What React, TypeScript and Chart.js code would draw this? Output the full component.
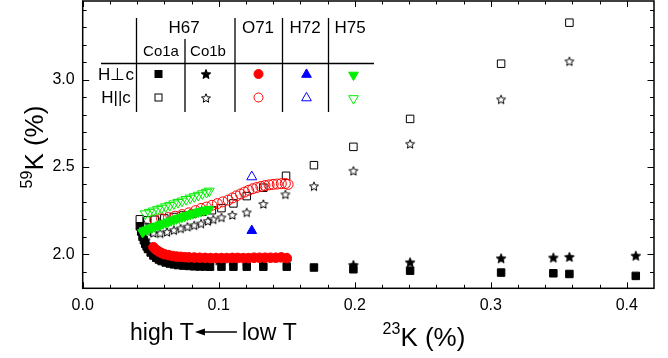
import React, { useEffect, useRef } from 'react';
import { Chart, registerables } from 'chart.js';

Chart.register(...registerables);

// ---- axes ----
const X_MIN = 0;
const X_MAX = 0.42;
const Y_MIN = 1.805;
const Y_MAX = 3.45;
const xMajorTicks = [0, 0.1, 0.2, 0.3, 0.4];
const xMinorTicks = [0.02, 0.04, 0.06, 0.08, 0.12, 0.14, 0.16, 0.18, 0.22, 0.24, 0.26, 0.28, 0.32, 0.34, 0.36, 0.38];
const yMajorTicks = [2.0, 2.5, 3.0];
const yMinorTicks = [1.9, 2.1, 2.2, 2.3, 2.4, 2.6, 2.7, 2.8, 2.9, 3.1, 3.2, 3.3, 3.4];

// ---- data: [23K, 59K] ----
// H67 Co1a, H perpendicular c (filled squares)
const co1aPerp: [number, number][] = [
  [0.042, 2.16], [0.043, 2.13], [0.044, 2.10], [0.045, 2.08], [0.046, 2.06], [0.047, 2.045],
  [0.048, 2.03], [0.050, 2.01], [0.052, 1.993], [0.054, 1.98], [0.056, 1.97], [0.058, 1.961],
  [0.061, 1.953], [0.064, 1.947], [0.067, 1.942], [0.070, 1.938], [0.074, 1.935], [0.078, 1.933],
  [0.082, 1.931], [0.086, 1.930], [0.090, 1.930], [0.0936, 1.929], [0.102, 1.929], [0.1108, 1.929],
  [0.1206, 1.929], [0.1328, 1.929], [0.150, 1.929], [0.170, 1.924], [0.199, 1.914], [0.2407, 1.906],
  [0.3076, 1.895], [0.346, 1.891], [0.3578, 1.887], [0.4066, 1.876],
];
// H67 Co1a, H parallel c (open squares)
const co1aPara: [number, number][] = [
  [0.042, 2.20], [0.047, 2.195], [0.053, 2.197], [0.060, 2.205], [0.067, 2.213], [0.074, 2.222],
  [0.081, 2.232], [0.088, 2.243], [0.095, 2.252], [0.102, 2.264], [0.1108, 2.291], [0.1206, 2.333],
  [0.1328, 2.381], [0.1495, 2.449], [0.170, 2.510], [0.199, 2.615], [0.2407, 2.775], [0.3076, 3.091],
  [0.3578, 3.326],
];
// H67 Co1b, H perpendicular c (filled stars)
const co1bPerp: [number, number][] = [
  [0.044, 2.12], [0.046, 2.08], [0.048, 2.05], [0.051, 2.025], [0.055, 2.005], [0.060, 1.99],
  [0.066, 1.978], [0.073, 1.972], [0.080, 1.968], [0.090, 1.966], [0.100, 1.965], [0.110, 1.964],
  [0.120, 1.963], [0.133, 1.962], [0.150, 1.960], [0.199, 1.939], [0.2407, 1.954], [0.3076, 1.977],
  [0.346, 1.981], [0.3578, 1.985], [0.4066, 1.992],
];
// H67 Co1b, H parallel c (open stars)
const co1bPara: [number, number][] = [
  [0.045, 2.17], [0.048, 2.13], [0.052, 2.122], [0.057, 2.12], [0.062, 2.128], [0.067, 2.138],
  [0.072, 2.148], [0.077, 2.158], [0.082, 2.166], [0.087, 2.176], [0.092, 2.19], [0.096, 2.2],
  [0.102, 2.211], [0.110, 2.225], [0.1206, 2.24], [0.1328, 2.288], [0.149, 2.343], [0.170, 2.39],
  [0.199, 2.478], [0.2407, 2.632], [0.3076, 2.887], [0.3578, 3.105],
];
// O71, H perpendicular c (filled red circles)
const o71Perp: [number, number][] = [
  [0.052, 2.04], [0.054, 2.025], [0.056, 2.015], [0.058, 2.007], [0.060, 2.0], [0.063, 1.995],
  [0.066, 1.99], [0.069, 1.987], [0.072, 1.985], [0.075, 1.983], [0.078, 1.982], [0.082, 1.981],
  [0.086, 1.98], [0.090, 1.979], [0.094, 1.978], [0.098, 1.978], [0.102, 1.978], [0.106, 1.978],
  [0.110, 1.979], [0.114, 1.979], [0.118, 1.978], [0.122, 1.978], [0.126, 1.98], [0.130, 1.98],
  [0.134, 1.98], [0.138, 1.98], [0.142, 1.98], [0.146, 1.982], [0.150, 1.978],
];
// O71, H parallel c (open red circles)
const o71Para: [number, number][] = [
  [0.053, 2.196], [0.058, 2.203], [0.063, 2.21], [0.068, 2.218], [0.073, 2.227], [0.078, 2.237],
  [0.083, 2.25], [0.087, 2.262], [0.091, 2.27], [0.095, 2.28], [0.099, 2.29], [0.103, 2.30],
  [0.107, 2.31], [0.110, 2.322], [0.113, 2.334], [0.116, 2.345], [0.119, 2.356], [0.122, 2.366],
  [0.125, 2.375], [0.128, 2.382], [0.131, 2.388], [0.134, 2.393], [0.137, 2.397], [0.140, 2.40],
  [0.143, 2.402], [0.146, 2.404], [0.149, 2.405], [0.151, 2.40],
];
// H72 (blue triangles)
const h72Perp: [number, number][] = [[0.1243, 2.135]];
const h72Para: [number, number][] = [[0.1243, 2.443]];
// H75 (green down triangles)
const h75Perp: [number, number][] = [
  [0.044, 2.125], [0.045, 2.135], [0.047, 2.14], [0.049, 2.147], [0.051, 2.152], [0.053, 2.158],
  [0.055, 2.163], [0.057, 2.169], [0.059, 2.175], [0.061, 2.18], [0.063, 2.186], [0.065, 2.192],
  [0.067, 2.197], [0.069, 2.203], [0.071, 2.208], [0.073, 2.213], [0.075, 2.218], [0.077, 2.223],
  [0.079, 2.228], [0.081, 2.233], [0.083, 2.237], [0.085, 2.242], [0.087, 2.246], [0.089, 2.25],
  [0.091, 2.254], [0.093, 2.258],
];
const h75Para: [number, number][] = [
  [0.046, 2.232], [0.049, 2.24], [0.052, 2.248], [0.055, 2.256], [0.058, 2.264], [0.061, 2.272],
  [0.064, 2.28], [0.067, 2.289], [0.070, 2.297], [0.073, 2.305], [0.076, 2.314], [0.079, 2.322],
  [0.082, 2.33], [0.085, 2.338], [0.088, 2.347], [0.091, 2.355], [0.093, 2.362],
];

// ---- colors / fonts ----
const BLACK = '#000000';
const RED = '#ff0000';
const BLUE = '#0000ff';
const GREEN = '#00ee00';
const FONT = '"Liberation Sans", Arial, Helvetica, sans-serif';

function makeStar(filled: boolean, R: number, color: string): HTMLCanvasElement {
  const size = Math.ceil(R * 2 + 4);
  const c = document.createElement('canvas');
  c.width = size;
  c.height = size;
  const ctx = c.getContext('2d') as CanvasRenderingContext2D;
  const cx = size / 2;
  const cy = size / 2 + R * 0.1;
  ctx.beginPath();
  for (let i = 0; i < 10; i++) {
    const r = i % 2 === 0 ? R : R * 0.45;
    const a = -Math.PI / 2 + (i * Math.PI) / 5;
    const px = cx + r * Math.cos(a);
    const py = cy + r * Math.sin(a);
    if (i === 0) ctx.moveTo(px, py);
    else ctx.lineTo(px, py);
  }
  ctx.closePath();
  if (filled) {
    ctx.fillStyle = color;
    ctx.fill();
  }
  ctx.strokeStyle = color;
  ctx.lineWidth = 1;
  ctx.stroke();
  return c;
}

const toPts = (arr: [number, number][]) => arr.map(([x, y]) => ({ x, y }));

export default function App() {
  const ref = useRef<HTMLCanvasElement | null>(null);

  useEffect(() => {
    const canvas = ref.current;
    if (!canvas) return;
    const starFilled = makeStar(true, 5, BLACK);
    const starOpen = makeStar(false, 4.7, BLACK);

    type Kind = 'sqF' | 'sqO' | 'stF' | 'stO' | 'ciF' | 'ciO' | 'tuF' | 'tuO' | 'tdF' | 'tdO';
    const drawMarker = (ctx: CanvasRenderingContext2D, kind: Kind, x: number, y: number, color: string) => {
      ctx.save();
      ctx.fillStyle = color;
      ctx.strokeStyle = color;
      ctx.lineWidth = 1;
      if (kind === 'sqF') {
        ctx.fillRect(x - 4, y - 4, 8, 8);
      } else if (kind === 'sqO') {
        ctx.strokeRect(x - 3.5, y - 3.5, 7, 7);
      } else if (kind === 'stF' || kind === 'stO') {
        const img = kind === 'stF' ? starFilled : starOpen;
        ctx.drawImage(img, Math.round(x - img.width / 2), Math.round(y - img.height / 2));
      } else if (kind === 'ciF' || kind === 'ciO') {
        ctx.beginPath();
        ctx.arc(x, y, 4.5, 0, Math.PI * 2);
        if (kind === 'ciF') ctx.fill();
        ctx.stroke();
      } else {
        const r = 5.6;
        const s = kind === 'tuF' || kind === 'tuO' ? 1 : -1;
        ctx.beginPath();
        ctx.moveTo(x, y - s * r);
        ctx.lineTo(x + r * 0.866, y + s * r * 0.5);
        ctx.lineTo(x - r * 0.866, y + s * r * 0.5);
        ctx.closePath();
        if (kind === 'tuF' || kind === 'tdF') ctx.fill();
        ctx.stroke();
      }
      ctx.restore();
    };

    const decor = {
      id: 'decor',
      afterDraw(chart: any) {
        const ctx: CanvasRenderingContext2D = chart.ctx;
        const a = chart.chartArea;
        const xs = chart.scales.x;
        const ys = chart.scales.y;
        ctx.save();
        // frame
        ctx.strokeStyle = BLACK;
        ctx.lineWidth = 1.5;
        ctx.strokeRect(a.left, a.top, a.right - a.left, a.bottom - a.top);
        // inner ticks
        ctx.lineWidth = 1;
        ctx.beginPath();
        const xTick = (v: number, len: number) => {
          const p = Math.round(xs.getPixelForValue(v)) + 0.5;
          ctx.moveTo(p, a.bottom);
          ctx.lineTo(p, a.bottom - len);
          ctx.moveTo(p, a.top);
          ctx.lineTo(p, a.top + len);
        };
        const yTick = (v: number, len: number) => {
          const p = Math.round(ys.getPixelForValue(v)) + 0.5;
          ctx.moveTo(a.left, p);
          ctx.lineTo(a.left + len, p);
          ctx.moveTo(a.right, p);
          ctx.lineTo(a.right - len, p);
        };
        xMajorTicks.forEach((v) => xTick(v, 6));
        xMinorTicks.forEach((v) => xTick(v, 3.5));
        yMajorTicks.forEach((v) => yTick(v, 6.5));
        yMinorTicks.forEach((v) => yTick(v, 4));
        ctx.stroke();

        ctx.fillStyle = BLACK;
        // y title: 59K (%)
        ctx.save();
        ctx.translate(43, 147);
        ctx.rotate(-Math.PI / 2);
        ctx.font = `16px ${FONT}`;
        const supW = ctx.measureText('59').width;
        ctx.font = `26px ${FONT}`;
        const mainW = ctx.measureText('K (%)').width;
        const start = -(supW + mainW) / 2;
        ctx.textBaseline = 'alphabetic';
        ctx.textAlign = 'left';
        ctx.font = `16px ${FONT}`;
        ctx.fillText('59', start, -11);
        ctx.font = `26px ${FONT}`;
        ctx.fillText('K (%)', start + supW, 0);
        ctx.restore();

        // x title: 23K (%)
        ctx.save();
        ctx.textBaseline = 'alphabetic';
        ctx.textAlign = 'left';
        ctx.font = `16px ${FONT}`;
        const sw = ctx.measureText('23').width;
        ctx.font = `26px ${FONT}`;
        const mw = ctx.measureText('K (%)').width;
        const sx = 424 - (sw + mw) / 2;
        ctx.font = `16px ${FONT}`;
        ctx.fillText('23', sx, 334);
        ctx.font = `26px ${FONT}`;
        ctx.fillText('K (%)', sx + sw, 346);
        ctx.restore();

        // high T <- low T
        ctx.save();
        ctx.font = `23px ${FONT}`;
        ctx.textBaseline = 'alphabetic';
        ctx.textAlign = 'left';
        ctx.fillText('high T', 130, 340);
        const hw = ctx.measureText('high T').width;
        const ax0 = 130 + hw + 1;
        const ax1 = ax0 + 42;
        ctx.lineWidth = 1.5;
        ctx.beginPath();
        ctx.moveTo(ax0 + 6, 332);
        ctx.lineTo(ax1, 332);
        ctx.stroke();
        ctx.beginPath();
        ctx.moveTo(ax0, 332);
        ctx.lineTo(ax0 + 10, 328.5);
        ctx.lineTo(ax0 + 10, 335.5);
        ctx.closePath();
        ctx.fill();
        ctx.fillText('low T', ax1 + 5, 340);
        ctx.restore();

        // table
        ctx.save();
        ctx.lineWidth = 1.3;
        ctx.strokeStyle = BLACK;
        ctx.beginPath();
        ctx.moveTo(101, 63.5); ctx.lineTo(374, 63.5);
        [136.5, 235, 282.5, 328.5].forEach((vx) => { ctx.moveTo(vx, 18); ctx.lineTo(vx, 112); });
        ctx.moveTo(185, 39); ctx.lineTo(185, 112);
        ctx.stroke();
        ctx.fillStyle = BLACK;
        ctx.textAlign = 'center';
        ctx.textBaseline = 'middle';
        ctx.font = `17px ${FONT}`;
        ctx.fillText('H67', 184, 28);
        ctx.fillText('O71', 258, 28);
        ctx.fillText('H72', 305, 28);
        ctx.fillText('H75', 350, 28);
        ctx.font = `15px ${FONT}`;
        ctx.fillText('Co1a', 161, 52);
        ctx.fillText('Co1b', 208, 52);
        ctx.font = `17px ${FONT}`;
        ctx.fillText('H\u22A5c', 116, 75);
        ctx.fillText('H||c', 116, 98);
        ctx.restore();
        const r1 = 74;
        const r2 = 97.5;
        drawMarker(ctx, 'sqF', 158.5, r1, BLACK);
        drawMarker(ctx, 'sqO', 158.5, r2, BLACK);
        drawMarker(ctx, 'stF', 206, r1, BLACK);
        drawMarker(ctx, 'stO', 206, r2, BLACK);
        drawMarker(ctx, 'ciF', 258.5, r1, RED);
        drawMarker(ctx, 'ciO', 258.5, r2, RED);
        drawMarker(ctx, 'tuF', 306.5, r1 + 0.5, BLUE);
        drawMarker(ctx, 'tuO', 306.5, r2 + 0.5, BLUE);
        drawMarker(ctx, 'tdF', 353.5, r1 + 1, GREEN);
        drawMarker(ctx, 'tdO', 353.5, r2 + 1, GREEN);

        ctx.restore();
      },
    };

    const tickFont = { family: FONT, size: 16 };
    const zeroPad = (s: any) => {
      s.paddingTop = 0;
      s.paddingBottom = 0;
      s.paddingLeft = 0;
      s.paddingRight = 0;
    };

    const chart = new Chart(canvas, {
      type: 'scatter',
      data: {
        datasets: [
          { label: 'H75 H||c', data: toPts(h75Para), pointStyle: 'triangle', rotation: 180, pointRadius: 5.8, borderColor: GREEN, backgroundColor: 'rgba(0,0,0,0)', borderWidth: 1 } as any,
          { label: 'H75 H⊥c', data: toPts(h75Perp), pointStyle: 'triangle', rotation: 180, pointRadius: 5.6, borderColor: GREEN, backgroundColor: GREEN, borderWidth: 1 } as any,
          { label: 'H72 H⊥c', data: toPts(h72Perp), pointStyle: 'triangle', pointRadius: 5.6, borderColor: BLUE, backgroundColor: BLUE, borderWidth: 1 } as any,
          { label: 'H72 H||c', data: toPts(h72Para), pointStyle: 'triangle', pointRadius: 5.8, borderColor: BLUE, backgroundColor: 'rgba(0,0,0,0)', borderWidth: 1 } as any,
          { label: 'O71 H||c', data: toPts(o71Para), pointStyle: 'circle', pointRadius: 5, borderColor: RED, backgroundColor: 'rgba(0,0,0,0)', borderWidth: 1 } as any,
          { label: 'O71 H⊥c', data: toPts(o71Perp), pointStyle: 'circle', pointRadius: 4.8, borderColor: RED, backgroundColor: RED, borderWidth: 1 } as any,
          { label: 'Co1a H⊥c', data: toPts(co1aPerp), pointStyle: 'rect', pointRadius: 5.3, borderColor: BLACK, backgroundColor: BLACK, borderWidth: 1 } as any,
          { label: 'Co1b H⊥c', data: toPts(co1bPerp), pointStyle: starFilled, pointRadius: 5, borderWidth: 0 } as any,
          { label: 'Co1b H||c', data: toPts(co1bPara), pointStyle: starOpen, pointRadius: 5, borderWidth: 0 } as any,
          { label: 'Co1a H||c', data: toPts(co1aPara), pointStyle: 'rect', pointRadius: 5.3, borderColor: BLACK, backgroundColor: 'rgba(0,0,0,0)', borderWidth: 1 } as any,
        ],
      },
      options: {
        animation: false,
        responsive: false,
        devicePixelRatio: 1,
        events: [],
        layout: { autoPadding: false, padding: { top: 1, right: 14, left: 0, bottom: 0 } },
        plugins: { legend: { display: false }, tooltip: { enabled: false }, title: { display: false } },
        scales: {
          x: {
            type: 'linear',
            position: 'bottom',
            min: X_MIN,
            max: X_MAX,
            grid: { display: false, drawTicks: false },
            border: { display: false },
            ticks: { font: tickFont, color: BLACK, padding: 8, callback: (v: any) => Number(v).toFixed(1) },
            afterBuildTicks: (s: any) => { s.ticks = xMajorTicks.map((v) => ({ value: v })); },
            afterFit: (s: any) => { s.height = 69.7; zeroPad(s); },
          },
          y: {
            type: 'linear',
            position: 'left',
            min: Y_MIN,
            max: Y_MAX,
            grid: { display: false, drawTicks: false },
            border: { display: false },
            ticks: { font: tickFont, color: BLACK, padding: 8, callback: (v: any) => Number(v).toFixed(1) },
            afterBuildTicks: (s: any) => { s.ticks = yMajorTicks.map((v) => ({ value: v })); },
            afterFit: (s: any) => { s.width = 82.7; zeroPad(s); },
          },
        },
      } as any,
      plugins: [decor],
    });
    return () => chart.destroy();
  }, []);

  return (
    <div style={{ position: 'fixed', left: 0, top: 0, width: 668, height: 358, background: '#fff' }}>
      <canvas ref={ref} width={668} height={358} style={{ display: 'block', width: 668, height: 358 }} />
    </div>
  );
}
